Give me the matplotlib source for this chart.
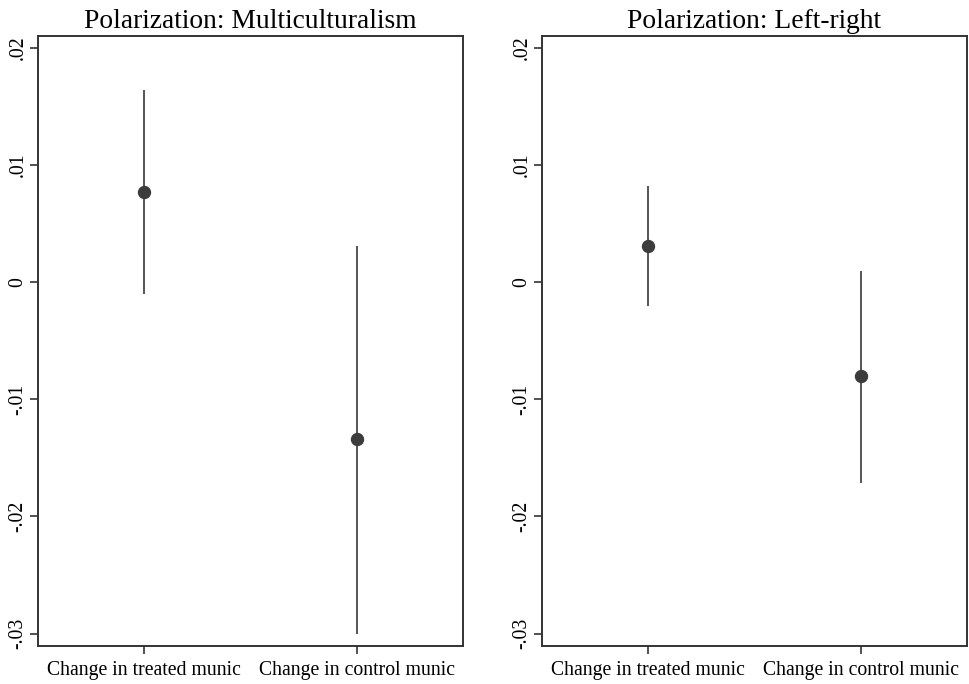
import matplotlib.pyplot as plt
import numpy as np

plt.rcParams["font.family"] = ["Liberation Serif", "DejaVu Serif"]

categories = ["Change in treated munic", "Change in control munic"]

titles = ["Polarization: Multiculturalism", "Polarization: Left-right"]
estimates = [[0.0077, -0.0134], [0.0031, -0.0080]]
ci_low = [[-0.0010, -0.0300], [-0.0020, -0.0171]]
ci_high = [[0.0164, 0.0031], [0.0082, 0.0010]]

yticks = [-0.03, -0.02, -0.01, 0.0, 0.01, 0.02]
ytick_labels = ["-.03", "-.02", "-.01", "0", ".01", ".02"]

fig = plt.figure(figsize=(9.69, 6.84), dpi=100)
W, H = 969, 684
panel_left = [38, 542]
panel_w = 425
top, bottom = 36, 646

x = np.arange(1, len(categories) + 1)

for i in range(2):
    ax = fig.add_axes([panel_left[i] / W, 1 - bottom / H, panel_w / W, (bottom - top) / H])
    ax.vlines(x, ci_low[i], ci_high[i], color="#555555", linewidth=1.4)
    ax.plot(x, estimates[i], "o", color="#3c3c3c", markersize=8.6)
    ax.set_xlim(0.5, 2.5)
    ax.set_ylim(-0.03106, 0.02103)
    ax.set_xticks(x)
    ax.set_xticklabels(categories, fontsize=14.2)
    ax.set_yticks(yticks)
    ax.set_yticklabels(ytick_labels, fontsize=14.2, rotation=90, va="center")
    ax.tick_params(direction="out", length=6, width=1.2, color="#333333")
    ax.tick_params(axis="x", pad=5)
    ax.tick_params(axis="y", pad=1.5)
    for s in ax.spines.values():
        s.set_linewidth(1.4)
        s.set_color("#333333")
    ax.set_title(titles[i], fontsize=19.8, pad=6)

fig.savefig("out.png", dpi=100)
